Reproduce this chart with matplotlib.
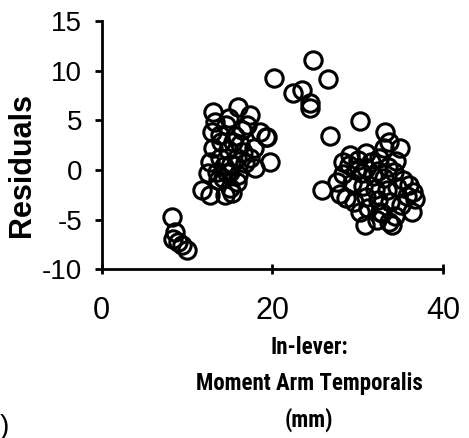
import matplotlib
matplotlib.use('Agg')
from matplotlib import pyplot as plt
from matplotlib import font_manager

# in-lever (mm) and residuals
left_x = [8.2, 8.6, 8.4, 9.37, 9.95, 8.97,
          13.07, 16.0, 17.4, 19.3, 19.7, 17.95, 11.7, 12.7, 14.4, 15.0,
          12.9, 13.85, 12.7, 15.4, 16.6, 17.4, 17.0, 18.5, 13.5, 14.2,
          15.0, 15.8, 13.07, 14.6, 12.5, 15.8, 19.2,
          13.8, 14.3, 14.8, 15.2, 16.2, 16.8, 14.0, 15.6, 16.4, 13.6,
          14.7, 16.0, 15.3, 17.8, 13.3, 14.9]
left_y = [-4.7, -6.2, -6.9, -7.55, -8.06, -7.2,
          5.87, 6.37, 5.5, 3.35, 0.84, 0.16, -2.0, -2.5, -2.5, -1.85,
          3.86, 3.5, 0.84, 2.85, 1.84, 1.17, 4.5, 3.86, -0.17, -0.85,
          -0.17, 1.17, 2.18, 4.5, -0.34, -1.18, 3.35,
          1.2, 0.4, 2.0, 0.6, 2.6, 0.7, 2.8, 3.4, 4.0, -1.0,
          -0.3, -0.5, -2.3, 2.2, 4.8, 5.2]

mid_x = [24.78, 20.18, 26.5, 22.4, 23.4, 24.4, 24.4, 30.2, 26.7]
mid_y = [11.08, 9.30, 9.16, 7.8, 8.1, 6.7, 6.2, 4.9, 3.45]

right_x = [33.2, 33.6, 34.9, 25.8, 36.3, 30.8, 34.0, 28.3, 29.1, 31.0,
           36.5, 36.7, 30.2, 32.6, 27.9, 29.5,
           29.0, 30.0, 31.5, 32.5, 33.5, 34.5, 30.5, 31.8, 33.0, 34.2,
           35.3, 29.3, 30.6, 32.0, 33.4, 34.6, 35.8, 28.6, 30.9, 32.3,
           33.8, 35.0, 31.2, 32.8, 34.3, 29.8, 31.0, 32.4, 28.2, 33.0,
           32.2, 33.7, 36.0, 27.6]
right_y = [3.8, 2.85, 2.2, -2.0, -4.2, -5.5, -5.5, -0.4, 1.5, 1.7,
           -2.2, -2.9, -4.2, -4.2, -2.4, -3.2,
           0.5, 1.0, 0.8, 1.2, 0.3, 0.9, -0.3, -0.6, -0.8, -0.2,
           -1.0, -1.3, -1.6, -1.9, -2.0, -1.7, -2.6, -2.8, -2.7, -3.0,
           -3.2, -3.5, -3.8, -4.3, -4.6, 0.0, 0.2, -0.1, 0.8, 2.2,
           -5.0, -5.2, -1.5, -1.2]

x = left_x + mid_x + right_x
y = left_y + mid_y + right_y

# narrow bold face for the x label if one is installed
names = set(f.name for f in font_manager.fontManager.ttflist)
narrow = 'Liberation Sans'
for cand in ['Liberation Sans Narrow', 'Arial Narrow', 'Roboto Condensed',
             'DejaVu Sans Condensed', 'Open Sans Condensed']:
    if cand in names:
        narrow = cand
        break
xl_size = 16.5 if narrow != 'Liberation Sans' else 13

fig = plt.figure(figsize=(4.69, 4.38), dpi=100)
ax = fig.add_axes([0.2168, 0.385, 0.7284, 0.567])

ax.plot(x, y, 'o', ms=12.5, mfc='none', mec='black', mew=2.2)

ax.set_xlim(0, 40)
ax.set_ylim(-10, 15)
ax.set_xticks([0, 20, 40])
ax.set_yticks([-10, -5, 0, 5, 10, 15])
ax.set_yticklabels(['-10', '-5', '0', '5', '10', '15'])

for s in ['top', 'right']:
    ax.spines[s].set_visible(False)
for s in ['left', 'bottom']:
    ax.spines[s].set_linewidth(2)

ax.tick_params(axis='x', direction='inout', length=7, width=2, pad=16,
               labelsize=22)
ax.tick_params(axis='y', direction='out', length=5, width=2, pad=9,
               labelsize=20)
for lab in ax.get_xticklabels() + ax.get_yticklabels():
    lab.set_family(['Liberation Sans', 'DejaVu Sans'])

ax.set_xlabel('In-lever:\nMoment Arm Temporalis\n(mm)', fontsize=xl_size,
              fontweight='bold', linespacing=1.68,
              family=[narrow, 'Liberation Sans'])
ax.xaxis.set_label_coords(0.607, -0.27)
ax.set_ylabel('Residuals', fontsize=22, fontweight='bold',
              family=['Liberation Sans', 'DejaVu Sans'])
ax.yaxis.set_label_coords(-0.19, 0.42)

fig.text(0.0, -0.005, ')', fontsize=20, family=['Liberation Sans'],
         va='bottom', ha='left')

fig.savefig('out.png', dpi=100)
